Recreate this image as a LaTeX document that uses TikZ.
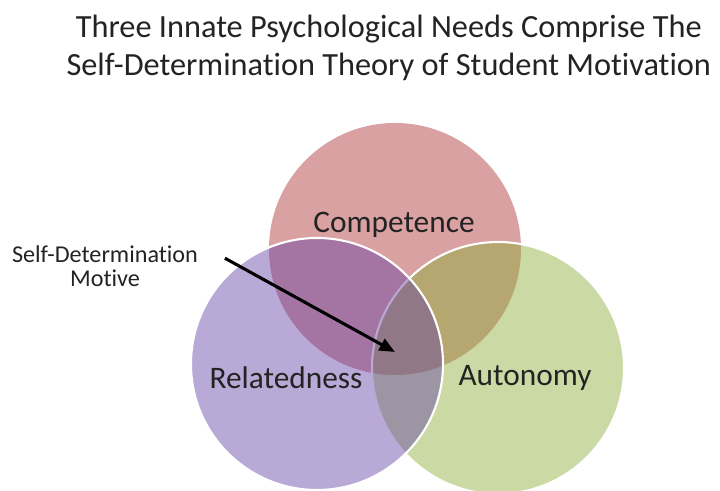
\documentclass[tikz,border=0pt]{standalone}
\usepackage{fontspec}
\setmainfont{Carlito}[Ligatures={NoCommon}]
\usepackage{xcolor}
\usepackage{tikz}
\definecolor{needred}{RGB}{217, 161, 161}
\definecolor{needgreen}{RGB}{140, 173, 53}
\definecolor{needpurple}{RGB}{100, 64, 164}
\definecolor{inktext}{RGB}{35, 35, 35}
\usetikzlibrary{positioning, calc, arrows.meta}

\begin{document}
\begin{tikzpicture}[
    need/.style={circle, minimum size=6.3cm, inner sep=0pt},
    needlabel/.style={font=\fontsize{22.3}{26}\selectfont, text=inktext},
    callout/.style={font=\fontsize{17.2}{17.2}\selectfont, text=inktext, align=center},
    pointer/.style={-{Triangle[length=11pt, width=9pt]}, line width=2.2pt, black}
]
    \useasboundingbox (0, 0) rectangle (18, 12.275);

    \node[font=\fontsize{23}{27}\selectfont, text=inktext, align=center] (title) at (9.72, 11.07)
        {Three Innate Psychological Needs Comprise The\\Self-Determination Theory of Student Motivation};

    % circles: competence first, then autonomy, relatedness on top
    \node[need, fill=needred] (competence) at (9.875, 6.05) {};
    \node[need, fill=needgreen, fill opacity=0.45, draw=white, line width=1.5pt] (autonomy) at (12.45, 3.075) {};
    \node[need, fill=needpurple, fill opacity=0.45, draw=white, line width=1.5pt] (relatedness) at (7.925, 3.175) {};

    \node[needlabel] (lblcomp) at (9.85, 6.65) {Competence};
    \node[needlabel] (lblrel) at (7.15, 2.825) {Relatedness};
    \node[needlabel] (lblaut) at (13.125, 2.825) {Autonomy};

    \node[callout] (motive) at (2.625, 5.62) {Self-Determination\\Motive};
    \coordinate (core) at (9.875, 3.475);
    \draw[pointer] ([xshift=0.55cm, yshift=0.2cm]motive.east) -- (core);
\end{tikzpicture}
\end{document}
